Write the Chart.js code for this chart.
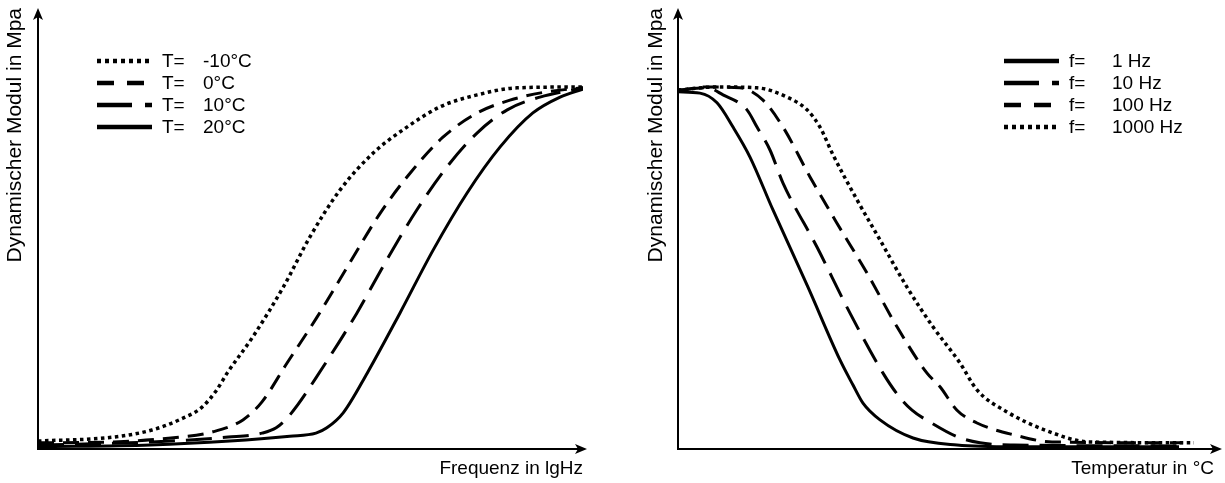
<!DOCTYPE html>
<html>
<head>
<meta charset="utf-8">
<script src="https://cdn.jsdelivr.net/npm/chart.js@4/dist/chart.umd.min.js"></script>
<style>
    html, body { margin: 0; padding: 0; background: #fff; }
    #wrap { position: relative; width: 1225px; height: 483px; }
    canvas { position: absolute; top: 0; }
</style>
</head>
<body>
<div id="wrap">
    <canvas id="freqChart" width="612" height="483" style="left:0"></canvas>
    <canvas id="tempChart" width="613" height="483" style="left:612px"></canvas>
</div>
<script>
// left chart: modulus over lg frequency, one curve per temperature
const tempLabels = ['-10°C', '0°C', '10°C', '20°C'];
const lgHzM10 = [0, 1.39, 2.09, 2.59, 3.01, 3.28, 3.47, 3.94, 4.50, 4.99, 5.54, 6.15, 6.77, 7.38, 8.06, 8.79, 10.0];
const modM10  = [1.8, 2.7, 4.3, 6.6, 9.5, 13.4, 17.2, 25.4, 36.7, 48.1, 58.7, 67.1, 73.0, 77.6, 80.3, 81.9, 82.1];
const lgHz0   = [0, 1.39, 2.44, 3.21, 3.76, 4.11, 4.57, 5.12, 5.72, 6.28, 6.83, 7.43, 8.06, 8.66, 9.34, 10.0];
const mod0    = [1.4, 1.6, 2.5, 3.9, 6.6, 10.7, 19.5, 29.9, 42.2, 53.5, 62.6, 70.7, 76.2, 79.1, 81.0, 81.9];
const lgHz10  = [0, 2.09, 3.49, 4.11, 4.37, 4.62, 5.23, 5.85, 6.40, 6.95, 7.50, 8.06, 8.61, 9.21, 10.0];
const mod10   = [0.9, 1.6, 2.7, 3.6, 4.8, 7.7, 18.6, 30.8, 42.9, 54.2, 63.9, 71.7, 76.9, 79.8, 81.9];
const lgHz20  = [0, 2.06, 3.52, 4.62, 5.10, 5.30, 5.60, 6.04, 6.64, 7.25, 7.87, 8.48, 9.08, 9.58, 10.0];
const mod20   = [0.5, 0.9, 1.8, 2.9, 3.6, 4.8, 8.2, 17.2, 30.8, 45.1, 58.0, 68.5, 76.2, 79.8, 81.6];

// right chart: modulus over temperature, one curve per frequency
const freqLabels = ['1 Hz', '10 Hz', '100 Hz', '1000 Hz'];
const temp1    = [0, 4.10, 7.28, 10.26, 13.43, 17.72, 24.25, 30.22, 32.65, 34.51, 37.69, 43.84, 52.05, 62.69, 93.47];
const mod1     = [81.0, 80.7, 78.5, 73.0, 66.2, 54.2, 36.7, 20.2, 14.5, 10.4, 6.6, 2.5, 0.9, 0.5, 0.5];
const temp10   = [0, 5.41, 8.40, 12.87, 14.74, 17.16, 19.59, 25.93, 32.09, 38.25, 41.04, 43.66, 47.01, 52.24, 56.34, 62.69, 93.47];
const mod10Hz  = [81.4, 81.9, 80.3, 76.9, 73.0, 67.8, 60.3, 45.8, 30.8, 17.2, 12.2, 8.8, 6.1, 2.7, 1.4, 0.9, 0.7];
const temp100  = [0, 5.41, 11.57, 15.86, 19.59, 24.63, 29.66, 35.26, 40.86, 46.46, 48.88, 52.05, 55.78, 62.69, 69.78, 94.22];
const mod100   = [81.2, 82.1, 81.9, 79.1, 73.0, 61.7, 51.2, 39.9, 27.7, 17.2, 14.1, 8.8, 5.9, 3.2, 1.6, 1.4];
const temp1000 = [0, 7.28, 14.74, 20.34, 24.07, 26.49, 28.92, 33.40, 37.69, 42.72, 47.57, 52.61, 55.78, 61.38, 68.47, 76.68, 96.27];
const mod1000  = [81.4, 82.1, 81.9, 79.8, 76.9, 73.0, 66.7, 56.5, 47.4, 36.7, 27.7, 19.5, 13.4, 8.4, 4.3, 1.6, 1.4];

const yTitle = 'Dynamischer Modul in Mpa';
const FONT = "'Liberation Sans', Arial, sans-serif";

const DOTTED = { curve: [3.5, 3.5], width: 3.5, legend: [4, 4] };
const DASHED = { curve: [16, 9], width: 3, legend: [17, 13] };
const LONGDASH = { curve: [26, 11], width: 3, legend: [35, 13, 7, 100] };
const SOLID = { curve: [], width: 3, legend: [] };

function toPoints(xs, ys) {
    return xs.map((x, i) => ({ x: x, y: ys[i] }));
}

function makeSet(label, xs, ys, style) {
    return {
        label: label,
        data: toPoints(xs, ys),
        borderColor: '#000',
        borderWidth: style.width,
        borderDash: style.curve,
        legendDash: style.legend,
        pointRadius: 0,
        fill: false,
        cubicInterpolationMode: 'monotone'
    };
}

// axis lines with arrow heads
const axisArrows = {
    id: 'axisArrows',
    afterDraw(chart, args, opts) {
        const { ctx, chartArea: a } = chart;
        const tipX = a.right + opts.overhang;
        ctx.save();
        ctx.strokeStyle = '#000';
        ctx.fillStyle = '#000';
        ctx.lineWidth = 2;
        ctx.beginPath();
        ctx.moveTo(a.left, a.top + 6);
        ctx.lineTo(a.left, a.bottom);
        ctx.lineTo(tipX - 6, a.bottom);
        ctx.stroke();

        ctx.beginPath();
        ctx.moveTo(a.left, a.top);
        ctx.lineTo(a.left - 5, a.top + 12);
        ctx.lineTo(a.left, a.top + 9);
        ctx.lineTo(a.left + 5, a.top + 12);
        ctx.closePath();
        ctx.fill();

        ctx.beginPath();
        ctx.moveTo(tipX, a.bottom);
        ctx.lineTo(tipX - 12, a.bottom - 5);
        ctx.lineTo(tipX - 9, a.bottom);
        ctx.lineTo(tipX - 12, a.bottom + 5);
        ctx.closePath();
        ctx.fill();
        ctx.restore();
    }
};

// legend block: line sample, prefix, value
const lineLegend = {
    id: 'lineLegend',
    afterDraw(chart, args, opts) {
        const ctx = chart.ctx;
        ctx.save();
        ctx.font = '19px ' + FONT;
        ctx.fillStyle = '#000';
        ctx.strokeStyle = '#000';
        ctx.textBaseline = 'middle';
        opts.order.forEach((dsIndex, row) => {
            const ds = chart.data.datasets[dsIndex];
            const y = opts.y + row * opts.rowGap;
            ctx.lineWidth = 4.5;
            ctx.setLineDash(ds.legendDash);
            ctx.beginPath();
            ctx.moveTo(opts.x, y);
            ctx.lineTo(opts.x + 55, y);
            ctx.stroke();
            ctx.setLineDash([]);
            ctx.fillText(opts.prefix, opts.x + 65, y + 1);
            ctx.fillText(ds.label, opts.x + opts.valueOffset, y + 1);
        });
        ctx.restore();
    }
};

function buildChart(canvasId, datasets, cfg) {
    return new Chart(document.getElementById(canvasId), {
        type: 'line',
        data: { datasets: datasets },
        plugins: [axisArrows, lineLegend],
        options: {
            responsive: false,
            animation: false,
            layout: { padding: cfg.padding },
            scales: {
                x: {
                    type: 'linear',
                    min: cfg.xMin,
                    max: cfg.xMax,
                    grid: { display: false },
                    border: { display: false },
                    ticks: { display: false },
                    title: {
                        display: true,
                        text: cfg.xTitle,
                        align: 'end',
                        color: '#000',
                        padding: 0,
                        font: { family: FONT, size: 19 }
                    },
                    afterFit: s => { s.height = 31; }
                },
                y: {
                    type: 'linear',
                    min: 0,
                    max: 100,
                    grid: { display: false },
                    border: { display: false },
                    ticks: { display: false },
                    title: {
                        display: true,
                        text: yTitle,
                        align: 'end',
                        color: '#000',
                        padding: 0,
                        font: { family: FONT, size: 21 }
                    },
                    afterFit: s => { s.width = cfg.yWidth; }
                }
            },
            plugins: {
                legend: { display: false },
                tooltip: { enabled: false },
                axisArrows: { overhang: cfg.overhang },
                lineLegend: cfg.legend
            }
        }
    });
}

buildChart('freqChart', [
    makeSet(tempLabels[0], lgHzM10, modM10, DOTTED),
    makeSet(tempLabels[1], lgHz0, mod0, DASHED),
    makeSet(tempLabels[2], lgHz10, mod10, LONGDASH),
    makeSet(tempLabels[3], lgHz20, mod20, SOLID)
], {
    padding: { left: 3, right: 29, top: 8, bottom: 3 },
    yWidth: 35,
    xMin: 0,
    xMax: 10,
    xTitle: 'Frequenz in lgHz',
    overhang: 4,
    legend: { x: 97, y: 61, rowGap: 22, prefix: 'T=', valueOffset: 106, order: [0, 1, 2, 3] }
});

buildChart('tempChart', [
    makeSet(freqLabels[0], temp1, mod1, SOLID),
    makeSet(freqLabels[1], temp10, mod10Hz, LONGDASH),
    makeSet(freqLabels[2], temp100, mod100, DASHED),
    makeSet(freqLabels[3], temp1000, mod1000, DOTTED)
], {
    padding: { left: 32, right: 11, top: 8, bottom: 3 },
    yWidth: 34,
    xMin: 0,
    xMax: 100,
    xTitle: 'Temperatur in °C',
    overhang: 8,
    legend: { x: 392, y: 61, rowGap: 22, prefix: 'f=', valueOffset: 108, order: [0, 1, 2, 3] }
});
</script>
</body>
</html>
